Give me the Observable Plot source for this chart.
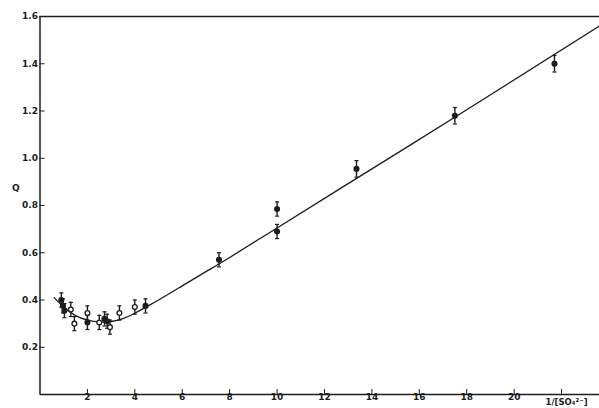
<!DOCTYPE html>
<html>
<head>
<meta charset="utf-8">
<script src="https://cdn.jsdelivr.net/npm/d3@7"></script>
<script src="https://cdn.jsdelivr.net/npm/@observablehq/plot@0.6"></script>
<style>
  html, body { margin: 0; padding: 0; background: #fff; }
  #chart svg { display: block; }
</style>
</head>
<body>
<div id="chart"></div>
<script>
// Measured points: 1/[SO4] vs Q, with error bars
const pointX   = [0.9, 0.97, 1.03, 1.3, 1.45, 2.0, 2.0, 2.5, 2.72, 2.83, 2.95, 3.35, 4.0, 4.45, 7.55, 10.0, 10.0, 13.35, 17.5, 21.7];
const pointY   = [0.40, 0.375, 0.355, 0.36, 0.30, 0.345, 0.305, 0.305, 0.32, 0.31, 0.285, 0.345, 0.37, 0.375, 0.57, 0.785, 0.69, 0.955, 1.18, 1.40];
const pointErr = [0.03, 0.03, 0.03, 0.03, 0.03, 0.03, 0.03, 0.03, 0.03, 0.03, 0.03, 0.03, 0.03, 0.03, 0.03, 0.03, 0.03, 0.035, 0.035, 0.035];
const pointKind = ["filled","filled","filled","open","open","open","filled","open","filled","filled","open","open","open","filled","filled","filled","filled","filled","filled","filled"];

// Fitted curve
const curveX = [0.6, 1.0, 1.5, 2.0, 2.5, 3.0, 3.5, 4.0, 4.5, 5.0, 6.0, 7.0, 8.0, 10.0, 14.0, 18.0, 23.6];
const curveY = [0.41, 0.37, 0.334, 0.315, 0.307, 0.309, 0.321, 0.344, 0.372, 0.40, 0.46, 0.52, 0.58, 0.705, 0.955, 1.205, 1.56];

// Axes
const xTicks = [2, 4, 6, 8, 10, 12, 14, 16, 18, 20, 22];
const yTicks = [0.2, 0.4, 0.6, 0.8, 1.0, 1.2, 1.4, 1.6];
const xLabel = "1/[SO\u2084\u00B2\u207B]";
const yLabel = "Q";

const points = pointX.map((x, i) => ({x, y: pointY[i], e: pointErr[i], kind: pointKind[i]}));
const curve = curveX.map((x, i) => ({x, y: curveY[i]}));

const ink = "#1c1c1c";
const cap = {
  draw(context, size) {
    const w = Math.sqrt(size) / 2;
    context.moveTo(-w, 0);
    context.lineTo(w, 0);
  }
};

const chart = Plot.plot({
  width: 599,
  height: 408,
  marginLeft: 39.5,
  marginRight: 0,
  marginTop: 16,
  marginBottom: 14,
  style: {fontFamily: "DejaVu Sans, sans-serif", fontSize: "9px", color: ink, background: "#fff"},
  x: {domain: [0, 23.6]},
  y: {domain: [0, 1.6]},
  marks: [
    Plot.ruleY([0, 1.6], {stroke: ink, strokeWidth: 1.3}),
    Plot.ruleX([0], {stroke: ink, strokeWidth: 1.5}),
    Plot.axisY({ticks: yTicks, tickSize: -5, tickPadding: 7, tickFormat: d => d.toFixed(1), stroke: ink, fill: ink, fontWeight: "bold", label: null}),
    Plot.axisX({ticks: xTicks, tickSize: -5, tickPadding: 4, tickFormat: d => d === 22 ? "" : String(d), stroke: ink, fill: ink, fontWeight: "bold", label: null}),
    Plot.text([xLabel], {x: 22, y: 0, dx: 5, dy: 8, fill: ink, fontWeight: "bold", fontSize: 8.5}),
    Plot.text([yLabel], {frameAnchor: "left", dx: -28, dy: -17, fill: ink, fontWeight: "bold", fontSize: 9}),
    Plot.line(curve, {x: "x", y: "y", curve: "natural", stroke: ink, strokeWidth: 1.3}),
    Plot.ruleX(points, {x: "x", y1: d => d.y - d.e, y2: d => d.y + d.e, stroke: ink, strokeWidth: 1.4}),
    Plot.dot(points, {x: "x", y: d => d.y - d.e, symbol: cap, r: 2.3, stroke: ink, strokeWidth: 1.2}),
    Plot.dot(points, {x: "x", y: d => d.y + d.e, symbol: cap, r: 2.3, stroke: ink, strokeWidth: 1.2}),
    Plot.dot(points, {x: "x", y: "y", r: 2.4, stroke: ink, strokeWidth: 1.3, fill: d => d.kind === "filled" ? ink : "#fff"})
  ]
});
document.getElementById("chart").appendChild(chart);
</script>
</body>
</html>
